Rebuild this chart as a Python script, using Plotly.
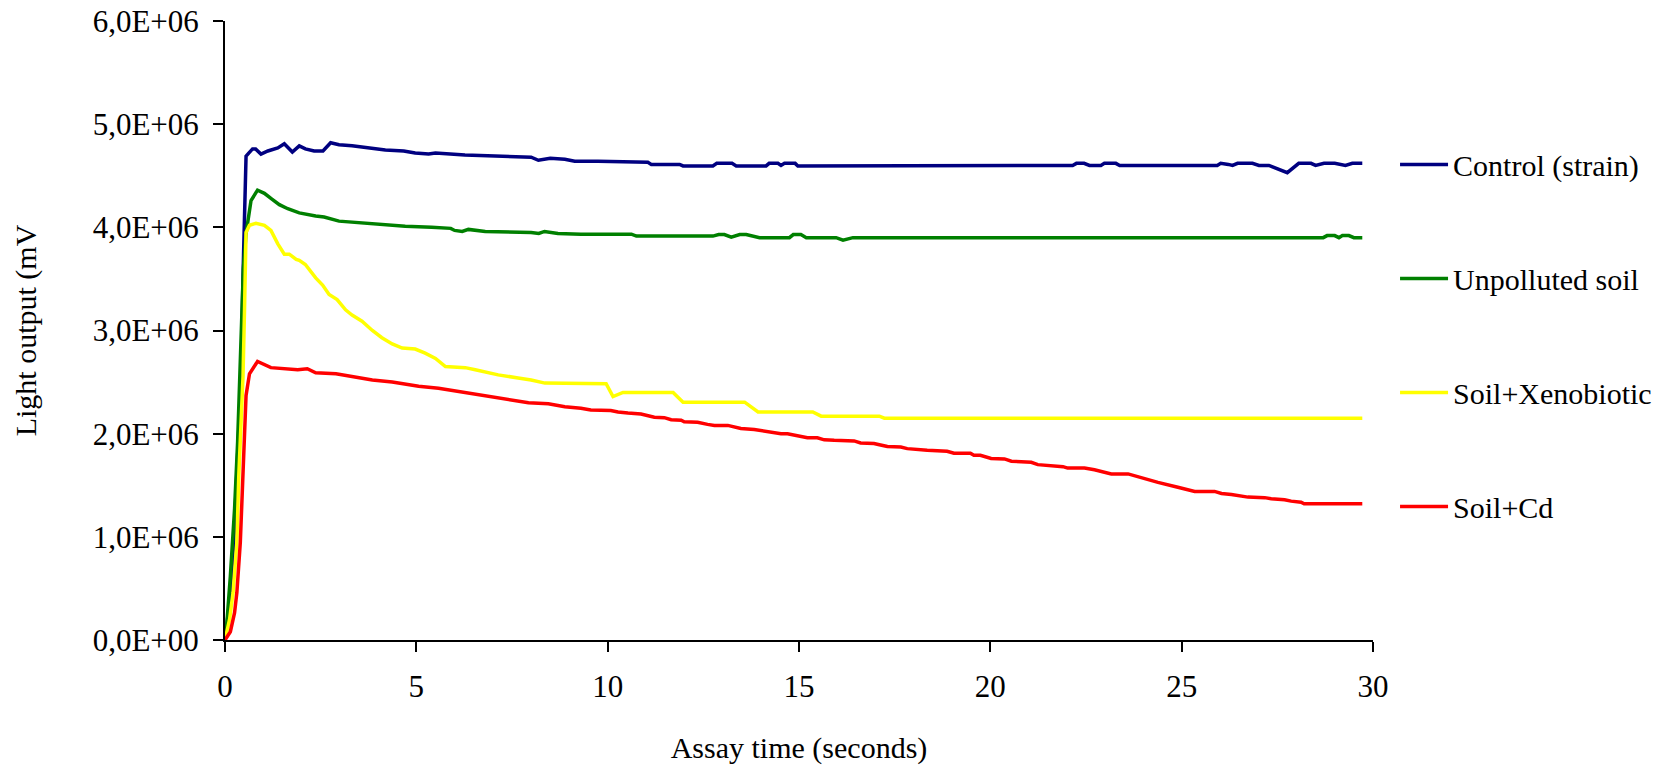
import plotly.graph_objects as go

# ---- data ----
control_t = [0, 0.12, 0.23, 0.31, 0.36, 0.42, 0.47, 0.52, 0.55, 0.62, 0.72, 0.8, 0.94, 1.12, 1.38, 1.55,
             1.63, 1.76, 1.94, 2.1, 2.33, 2.56, 2.76, 2.98, 3.32, 3.76, 4.19, 4.67, 4.97, 5.32, 5.5, 6.27,
             7.45, 8.0, 8.19, 8.5, 8.88, 9.14, 9.75, 11.05, 11.14, 11.88, 11.97, 12.75, 12.85, 13.25, 13.36,
             14.14, 14.22, 14.45, 14.53, 14.62, 14.9, 14.97, 22.15, 22.25, 22.45, 22.59, 22.89, 22.98, 23.28,
             23.38, 25.93, 26.02, 26.22, 26.33, 26.46, 26.85, 27.02, 27.28, 27.76, 28.06, 28.38, 28.5, 28.72,
             29.0, 29.28, 29.46, 29.72]
control_v = [0, 0.37, 0.95, 1.59, 2.08, 2.55, 3.52, 4.3, 4.69, 4.72, 4.76, 4.76, 4.71, 4.74, 4.77, 4.81,
             4.78, 4.73, 4.79, 4.76, 4.74, 4.74, 4.82, 4.80, 4.79, 4.77, 4.75, 4.74, 4.72, 4.71, 4.72, 4.70,
             4.69, 4.68, 4.65, 4.67, 4.66, 4.64, 4.64, 4.63, 4.61, 4.61, 4.595, 4.595, 4.62, 4.62, 4.595,
             4.595, 4.62, 4.62, 4.60, 4.62, 4.62, 4.595, 4.60, 4.62, 4.62, 4.60, 4.60, 4.62, 4.62,
             4.60, 4.60, 4.62, 4.61, 4.60, 4.62, 4.62, 4.60, 4.60, 4.53, 4.62, 4.62, 4.60, 4.62,
             4.62, 4.60, 4.62, 4.62]

unpolluted_t = [0, 0.03, 0.14, 0.25, 0.33, 0.42, 0.48, 0.55, 0.68, 0.85, 1.03, 1.2, 1.42, 1.64, 1.86, 1.94,
                2.37, 2.59, 2.98, 3.32, 4.1, 4.71, 5.4, 5.9, 6.0, 6.2, 6.36, 6.6, 6.8, 8.0, 8.2, 8.35, 8.7,
                9.3, 10.62, 10.75, 12.75, 12.9, 13.05, 13.23, 13.45, 13.62, 13.88, 13.97, 14.75, 14.85, 15.05,
                15.19, 15.97, 16.15, 16.41, 28.7, 28.8, 29.0, 29.11, 29.2, 29.37, 29.5, 29.72]
unpolluted_v = [0, 0.07, 0.62, 1.27, 1.92, 2.9, 3.6, 3.94, 4.26, 4.36, 4.33, 4.28, 4.22, 4.18, 4.15, 4.14,
                4.11, 4.10, 4.06, 4.05, 4.03, 4.01, 4.0, 3.99, 3.97, 3.96, 3.98, 3.97, 3.96, 3.95, 3.94, 3.96, 3.94,
                3.934, 3.934, 3.915, 3.915, 3.93, 3.93, 3.905, 3.93, 3.93, 3.905, 3.90, 3.90, 3.93, 3.93,
                3.90, 3.90, 3.876, 3.90, 3.90, 3.92, 3.92, 3.90, 3.92, 3.92, 3.90, 3.90]

xeno_t = [0, 0.12, 0.21, 0.31, 0.36, 0.42, 0.47, 0.51, 0.55, 0.64, 0.81, 1.03, 1.2, 1.38, 1.55, 1.68, 1.86,
          1.94, 2.1, 2.37, 2.55, 2.72, 2.93, 3.15, 3.32, 3.58, 3.85, 4.1, 4.37, 4.63, 4.97, 5.23, 5.5, 5.76,
          6.28, 6.54, 6.88, 7.14, 7.66, 8.0, 8.36, 9.96, 10.14, 10.4, 11.71, 11.97, 13.58, 13.93, 15.36,
          15.58, 17.1, 17.23, 29.72]
xeno_v = [0, 0.2, 0.46, 0.95, 1.59, 2.1, 2.55, 3.2, 3.95, 4.02, 4.04, 4.02, 3.97, 3.84, 3.74, 3.74, 3.69,
          3.68, 3.64, 3.51, 3.44, 3.35, 3.30, 3.20, 3.15, 3.09, 3.0, 2.93, 2.87, 2.83, 2.82, 2.78, 2.73, 2.65,
          2.64, 2.62, 2.59, 2.57, 2.54, 2.52, 2.49, 2.484, 2.36, 2.40, 2.40, 2.305, 2.305, 2.21, 2.21,
          2.17, 2.17, 2.15, 2.15]

cd_t = [0, 0.14, 0.25, 0.31, 0.40, 0.46, 0.51, 0.55, 0.64, 0.85, 1.2, 1.55, 1.9, 2.15, 2.37, 2.9, 3.06, 3.32,
        3.85, 4.37, 4.71, 5.06, 5.58, 6.1, 6.62, 6.97, 7.49, 7.93, 8.45, 8.88, 9.3, 9.56, 10.08, 10.27, 10.53,
        10.87, 11.22, 11.48, 11.66, 11.92, 12.0, 12.35, 12.61, 12.79, 13.14, 13.48, 13.83, 14.0, 14.27, 14.53,
        14.7, 14.96, 15.22, 15.48, 15.66, 15.92, 16.44, 16.61, 16.96, 17.13, 17.31, 17.66, 17.83, 18.35,
        18.87, 19.05, 19.48, 19.57, 19.74, 20.02, 20.37, 20.55, 21.07, 21.24, 21.5, 21.9, 22.02, 22.46,
        22.72, 23.16, 23.6, 23.95, 24.38, 24.9, 25.34, 25.86, 26.04, 26.3, 26.47, 26.73, 27.17, 27.34,
        27.69, 27.86, 28.12, 28.2, 29.72]
cd_v = [0, 0.08, 0.265, 0.46, 0.945, 1.59, 2.15, 2.37, 2.58, 2.70, 2.64, 2.63, 2.62, 2.63, 2.59, 2.58, 2.57, 2.56,
        2.52, 2.50, 2.48, 2.46, 2.44, 2.41, 2.38, 2.36, 2.33, 2.30, 2.29, 2.26, 2.247, 2.23, 2.225, 2.21, 2.20,
        2.19, 2.16, 2.155, 2.135, 2.13, 2.115, 2.11, 2.09, 2.08, 2.08, 2.05, 2.04, 2.03, 2.02, 2.00,
        2.0, 1.98, 1.96, 1.96, 1.94, 1.935, 1.93, 1.91, 1.905, 1.89, 1.875, 1.87, 1.855, 1.84,
        1.83, 1.81, 1.81, 1.79, 1.79, 1.76, 1.755, 1.733, 1.723, 1.70, 1.69, 1.68, 1.666, 1.666,
        1.65, 1.61, 1.61, 1.57, 1.528, 1.48, 1.44, 1.44, 1.42, 1.41, 1.40, 1.385, 1.38, 1.37,
        1.36, 1.346, 1.336, 1.32, 1.32]

series_names = ["Control (strain)", "Unpolluted soil", "Soil+Xenobiotic", "Soil+Cd"]
series_colors = ["#000080", "#008000", "#FFFF00", "#FF0000"]
series_t = [control_t, unpolluted_t, xeno_t, cd_t]
series_v = [control_v, unpolluted_v, xeno_v, cd_v]

y_tick_vals = [0, 1e6, 2e6, 3e6, 4e6, 5e6, 6e6]
y_tick_text = ["0,0E+00", "1,0E+06", "2,0E+06", "3,0E+06", "4,0E+06", "5,0E+06", "6,0E+06"]
x_tick_vals = [0, 5, 10, 15, 20, 25, 30]
x_tick_text = ["0", "5", "10", "15", "20", "25", "30"]

FONT = "Liberation Serif, Times New Roman, serif"

fig = go.Figure()
for i, (name, col, tt, vv) in enumerate(zip(series_names, series_colors, series_t, series_v)):
    n = min(len(tt), len(vv))
    fig.add_trace(go.Scatter(
        x=tt[:n], y=[v * 1e6 for v in vv[:n]], mode="lines", name=name,
        line=dict(color=col, width=3.5), legendgroup=f"g{i}",
    ))

fig.update_layout(
    width=1667, height=765,
    margin=dict(l=225, r=294, t=21, b=125, autoexpand=False),
    paper_bgcolor="white", plot_bgcolor="white",
    font=dict(family=FONT, size=30, color="black"),
    showlegend=True,
    legend=dict(x=1.0192, y=0.81, xanchor="left", yanchor="top", itemwidth=48,
                font=dict(family=FONT, size=30, color="black"),
                tracegroupgap=72, bgcolor="rgba(0,0,0,0)"),
    xaxis=dict(range=[0, 30], tickvals=x_tick_vals, ticktext=x_tick_text, automargin=False,
               showgrid=False, zeroline=False, showline=True, linecolor="black", linewidth=2,
               ticks="outside", ticklen=10, tickwidth=2, tickcolor="black",
               tickfont=dict(family=FONT, size=31), ticklabelstandoff=8,
               title=dict(text="Assay time (seconds)", font=dict(family=FONT, size=30), standoff=36)),
    yaxis=dict(range=[0, 6e6], tickvals=y_tick_vals, ticktext=y_tick_text, automargin=False,
               showgrid=False, zeroline=False, showline=True, linecolor="black", linewidth=2,
               ticks="outside", ticklen=10, tickwidth=2, tickcolor="black",
               tickfont=dict(family=FONT, size=31), ticklabelstandoff=8,
               title=dict(text="Light output (mV", font=dict(family=FONT, size=30), standoff=47)),
)

fig.write_html("out.html", config={"displayModeBar": False},
               post_script="document.body.style.margin='0';document.body.style.overflow='hidden';")
